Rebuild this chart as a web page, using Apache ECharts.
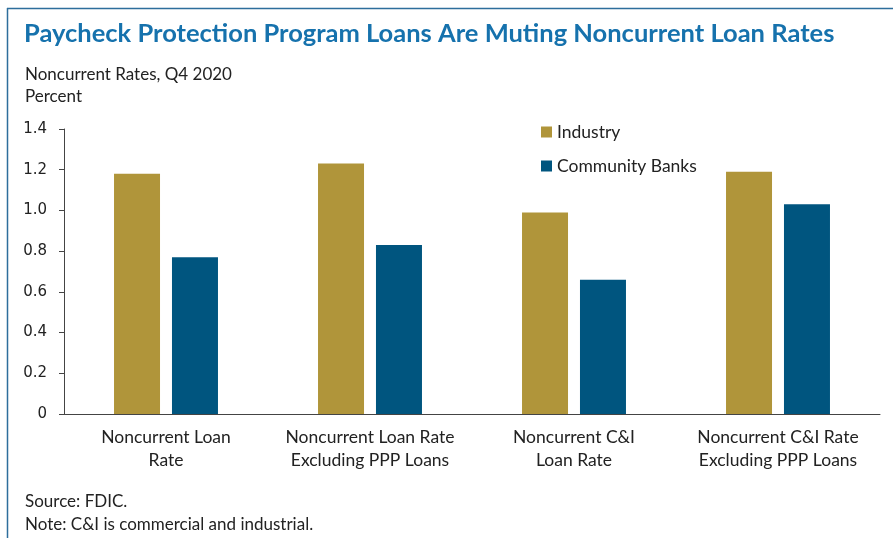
<!DOCTYPE html>
<html><head><meta charset="utf-8">
<script src="https://cdn.jsdelivr.net/npm/echarts@6/dist/echarts.min.js"></script>
<style>html,body{margin:0;padding:0;background:#fff}#c{width:893px;height:538px}</style>
</head><body><div id="c"></div>
<script>
const categories = ["Noncurrent Loan\nRate", "Noncurrent Loan Rate\nExcluding PPP Loans", "Noncurrent C&I\nLoan Rate", "Noncurrent C&I Rate\nExcluding PPP Loans"];
const industry = [1.18, 1.23, 0.99, 1.19];
const communityBanks = [0.77, 0.83, 0.66, 1.03];
const yTicks = [0, 0.2, 0.4, 0.6, 0.8, 1.0, 1.2, 1.4];

const F = "Lato";
const chart = echarts.init(document.getElementById('c'), null, {renderer: 'canvas'});
chart.setOption({
  animation: false,
  backgroundColor: '#fff',
  graphic: [
    {type: 'line', shape: {x1: 7.5, y1: 8, x2: 7.5, y2: 538}, style: {stroke: '#2d6e9c', lineWidth: 1.5}},
    {type: 'line', shape: {x1: 7, y1: 8.5, x2: 893, y2: 8.5}, style: {stroke: '#2d6e9c', lineWidth: 1.5}},
    {type: 'text', left: 24, top: 21, style: {text: 'Paycheck Protection Program Loans Are Muting Noncurrent Loan Rates', font: 'bold 25.5px ' + F, fill: '#1672ad'}},
    {type: 'text', left: 25, top: 66, style: {text: 'Noncurrent Rates, Q4 2020', font: '17px ' + F, fill: '#222'}},
    {type: 'text', left: 25, top: 88, style: {text: 'Percent', font: '17px ' + F, fill: '#222'}},
    {type: 'text', left: 25, top: 493, style: {text: 'Source: FDIC.', font: '17px ' + F, fill: '#222'}},
    {type: 'text', left: 25, top: 516, style: {text: 'Note: C&I is commercial and industrial.', font: '17px ' + F, fill: '#222'}}
  ],
  legend: {
    orient: 'vertical', left: 536, top: 118, itemWidth: 11, itemHeight: 11, itemGap: 16,
    icon: 'rect',
    textStyle: {fontFamily: F, fontSize: 17.5, color: '#222'},
    data: ['Industry', 'Community Banks']
  },
  grid: {left: 64, right: 13, top: 129, bottom: 124, containLabel: false},
  xAxis: {
    type: 'category', data: categories,
    axisLine: {lineStyle: {color: '#444', width: 1}},
    axisTick: {show: false},
    axisLabel: {interval: 0, fontFamily: F, fontSize: 17.5, color: '#222', lineHeight: 23, margin: 12}
  },
  yAxis: {
    type: 'value', min: 0, max: 1.4, interval: 0.2,
    splitLine: {show: false},
    axisLine: {show: true, lineStyle: {color: '#444', width: 1}},
    axisTick: {show: true, length: 5, lineStyle: {color: '#444'}},
    axisLabel: {fontFamily: 'DejaVu Sans', fontSize: 15, color: '#222', margin: 17,
      formatter: v => { const t = yTicks.find(x => Math.abs(x - v) < 1e-9); return t === 0 ? '0' : t.toFixed(1); }}
  },
  series: [
    {name: 'Industry', type: 'bar', data: industry, barWidth: 46, barGap: '26%', itemStyle: {color: '#b0953a'}},
    {name: 'Community Banks', type: 'bar', data: communityBanks, barWidth: 46, itemStyle: {color: '#00557f'}}
  ]
});
</script></body></html>
